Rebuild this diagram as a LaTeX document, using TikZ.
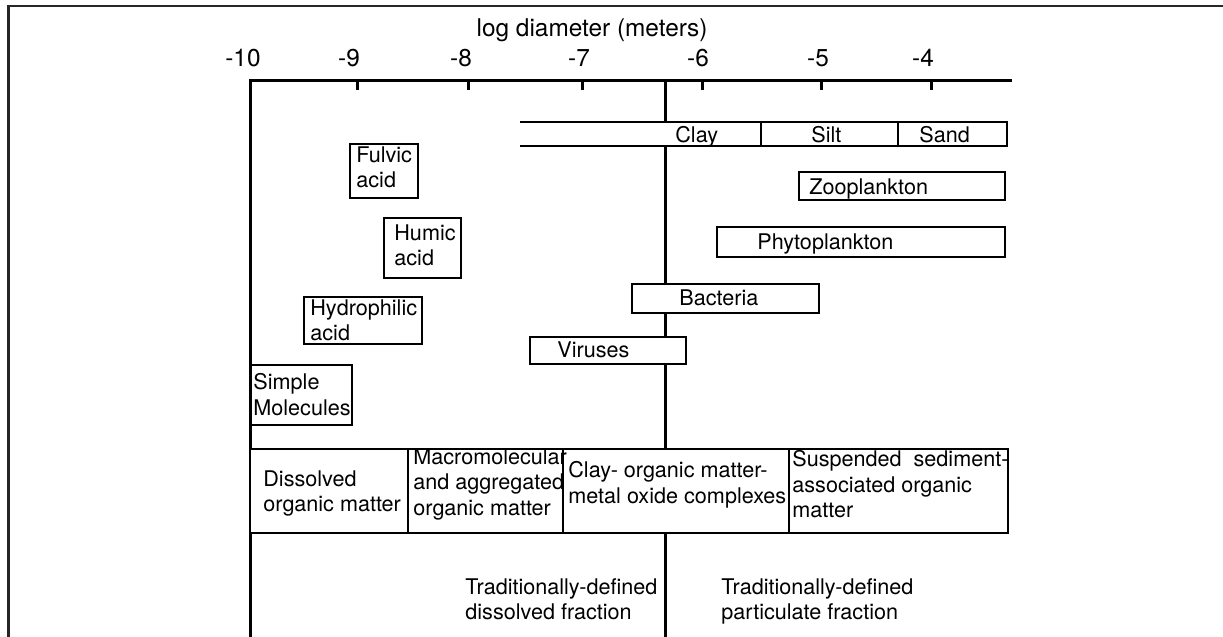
\documentclass[tikz,border=0pt]{standalone}
\usepackage{fontspec}
\setmainfont{TeX Gyre Heros}
\begin{document}
\begin{tikzpicture}[x=0.5pt, y=-0.5pt,
  box/.style={draw, line width=0.8pt, fill=white},
  lbl/.style={anchor=north west, inner sep=0pt, align=left, font=\fontsize{10.8}{12.8}\selectfont},
  word/.style={anchor=base west, inner sep=0pt, font=\fontsize{10.8}{12.8}\selectfont},
  ticklbl/.style={anchor=base, inner sep=0pt, font=\fontsize{12.2}{14}\selectfont}]
  \useasboundingbox (0,0) rectangle (1223,637);
  \draw[line width=1.1pt, black!85] (8.5,637) -- (8.5,6) -- (1223,6);
  % axis
  \node[ticklbl] (title) at (592,37) {log diameter (meters)};
  \draw[line width=1.5pt] (250,637) -- (250,80) -- (1012,80);
  \foreach \t/\x/\l in {10/249/243, 9/357/349, 8/468/461, 7/582/579, 6/702/698, 5/821/818, 4/931/923} {
    \node[ticklbl] (tick\t) at (\l,66) {-\t};
  }
  \foreach \x in {357,468,582,702,821,931}
    \draw[line width=1.5pt] (\x,80) -- (\x,90);
  \draw[line width=1.5pt] (665,80) -- (665,637);
  % clay / silt / sand band
  \fill[white] (520,122) rectangle (1007,146);
  \draw[line width=0.8pt] (520,122) -- (1007,122) -- (1007,146) -- (520,146);
  \draw[line width=0.8pt] (761,122) -- (761,146);
  \draw[line width=0.8pt] (898,122) -- (898,146);
  \node[word] (clay) at (675,142) {Clay};
  \node[word] (silt) at (811,142) {Silt};
  \node[word] (sand) at (919,142) {Sand};
  % organisms and particles
  \draw[box] (799,172) rectangle (1005,200);
  \node[word] (zoo) at (809,194) {Zooplankton};
  \draw[box] (717,227) rectangle (1005,257);
  \node[word] (phyto) at (757,249) {Phytoplankton};
  \draw[box] (632,284) rectangle (819,313);
  \node[word] (bact) at (679,305) {Bacteria};
  \draw[box] (530,337) rectangle (686,364);
  \node[word] (virus) at (557,357) {Viruses};
  \draw[box] (350,144) rectangle (418,198);
  \node[lbl] (fulvic) at (356,146) {Fulvic\\acid};
  \draw[box] (384,218) rectangle (461,278);
  \node[lbl] (humic) at (394,224) {Humic\\acid};
  \draw[box] (304,297) rectangle (422,344);
  \node[lbl] (hydro) at (310,299) {Hydrophilic\\acid};
  \draw[box] (251,365) rectangle (352,425);
  \node[lbl] (simple) at (253,373) {Simple\\Molecules};
  % organic matter classes
  \draw[box] (250,449) rectangle (1008,533);
  \draw[line width=0.8pt] (408,449) -- (408,533);
  \draw[line width=0.8pt] (563,449) -- (563,533);
  \draw[line width=0.8pt] (789,449) -- (789,533);
  \node[lbl] (dom) at (263,470) {Dissolved\\organic matter};
  \node[lbl] (macro) at (413,448) {Macromolecular\\and aggregated\\organic matter};
  \node[lbl] (complex) at (568,461) {Clay- organic matter-\\metal oxide complexes};
  \node[lbl] (susp) at (792,450) {Suspended\hspace{3pt} sediment-\\associated organic\\matter};
  \node[lbl] (dissfrac) at (465,578) {Traditionally-defined\\dissolved fraction};
  \node[lbl] (partfrac) at (721,578) {Traditionally-defined\\particulate fraction};
\end{tikzpicture}
\end{document}
